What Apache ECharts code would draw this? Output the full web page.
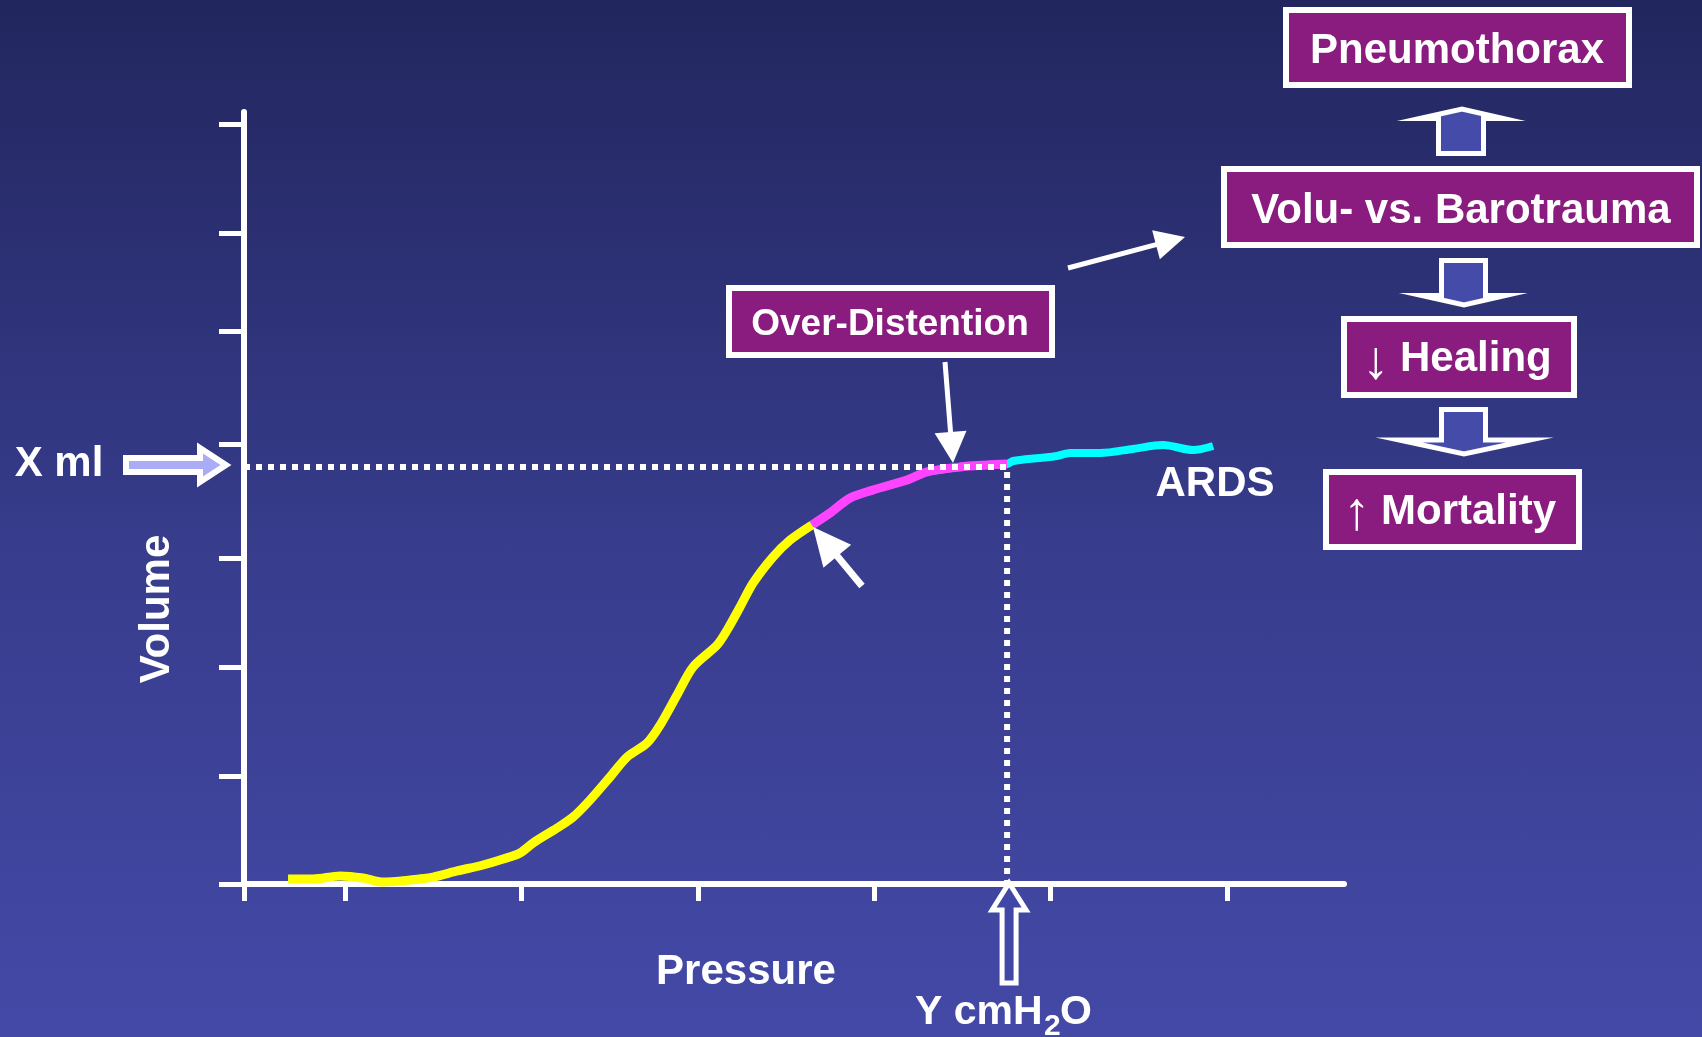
<!DOCTYPE html>
<html>
<head>
<meta charset="utf-8">
<title>Pressure–Volume curve in ARDS</title>
<script src="https://cdn.jsdelivr.net/npm/echarts@6/dist/echarts.min.js"></script>
<style>
  html, body { margin: 0; padding: 0; }
  #chart {
    width: 1702px; height: 1037px;
    background: linear-gradient(to bottom, #22265e 0%, #383d8e 55%, #4449a7 100%);
  }
</style>
</head>
<body>
<div id="chart"></div>
<script>
// Static pressure–volume trace of an ARDS lung (pressure in arbitrary cmH2O units, volume in ml)
const pressure = [6.77, 8.19, 9.72, 11.02, 12.15, 13.68, 14.99, 16.35, 17.82, 18.96, 19.92, 20.66,
  22.02, 22.93, 23.89, 25.02, 25.99, 27.12, 27.86, 28.82, 29.73, 31.09, 31.66, 32.39, 33.13, 34.26,
  35.23, 36.47, 37.49, 38.63, 39.93, 41.86, 42.99, 44.86, 46.39, 47.53, 47.87, 49.40, 50.36, 51.10,
  52.80, 54.67, 56.37, 58.07, 59.21];
const volume = [4.6, 4.6, 7.4, 5.5, 1.8, 3.7, 6.4, 12.0, 17.5, 23.0, 28.6, 37.8,
  51.6, 61.7, 77.4, 98.6, 117.0, 129.9, 146.4, 174.1, 199.9, 220.1, 233.9, 255.1, 277.2, 301.2,
  316.8, 330.7, 341.7, 355.5, 362.9, 372.1, 379.5, 384.1, 385.9, 386.8, 389.6, 392.4, 394.2, 397.0,
  397.0, 400.7, 404.3, 399.7, 403.4];

// Upper inflection point (start of over-distention) and the chosen limit
const inflectionPressure = 36.47;
const limitPressure = 47.53;   // "Y cmH2O"
const limitVolume = 384;       // "X ml"

// Axis extents and tick positions
const pressureRange = [4.27, 66.63];
const volumeRange = [0, 711];
const pressureTicks = [4.27, 10, 20, 30, 40, 50, 60];
const volumeTicks = [0, 99.5, 199.9, 300.3, 405.3, 509.3, 599.6, 700];

// Flow of consequences on the right
const consequences = ['Pneumothorax', 'Volu- vs. Barotrauma', 'Healing', 'Mortality'];

const W = '#ffffff';
const PURPLE = '#891c7e';
const ARROW_FILL = '#454ba9';
const FONT = '"Liberation Sans", Arial, Helvetica, sans-serif';

const points = pressure.map((p, i) => [p, volume[i]]);
const recruitPart = points.filter(d => d[0] <= inflectionPressure);
const overPart = points.filter(d => d[0] >= inflectionPressure && d[0] <= limitPressure);

const chart = echarts.init(document.getElementById('chart'), null, { renderer: 'canvas' });

chart.setOption({
  animation: false,
  backgroundColor: 'transparent',
  grid: { left: 244, right: 358, top: 112, bottom: 153 },
  xAxis: {
    type: 'value',
    min: pressureRange[0], max: pressureRange[1],
    axisLine: { show: true, onZero: false, lineStyle: { color: W, width: 6 } },
    axisTick: { show: true, customValues: pressureTicks, length: 17, lineStyle: { color: W, width: 5 } },
    axisLabel: { show: false },
    splitLine: { show: false }
  },
  yAxis: {
    type: 'value',
    min: volumeRange[0], max: volumeRange[1],
    axisLine: { show: true, onZero: false, lineStyle: { color: W, width: 6 } },
    axisTick: { show: true, customValues: volumeTicks, length: 25, lineStyle: { color: W, width: 5 } },
    axisLabel: { show: false },
    splitLine: { show: false }
  },
  series: [
    {
      name: 'ARDS', type: 'line', data: points, symbol: 'none', smooth: 0.3, z: 2,
      lineStyle: { color: '#00ffff', width: 8 }
    },
    {
      name: 'Recruitment', type: 'line', data: recruitPart, symbol: 'none', smooth: 0.3, z: 3,
      lineStyle: { color: '#ffff00', width: 9 }
    },
    {
      name: 'Over-distention', type: 'line', data: overPart, symbol: 'none', smooth: 0.3, z: 3,
      lineStyle: { color: '#ff44ff', width: 9 }
    },
    {
      name: 'Limit', type: 'line', symbol: 'none', z: 4,
      data: [[pressureRange[0], limitVolume], [limitPressure, limitVolume], [limitPressure, 0]],
      lineStyle: { color: W, width: 6, type: [6, 6] }
    }
  ]
});

// ---- annotations ----
// Text centres are given at the middle of the capital letters.
function text(str, x, y, size, opts) {
  opts = opts || {};
  const align = opts.align || 'center';
  const rot = opts.rotation || 0;
  return {
    type: 'text', x: rot ? x : x, y: rot ? y : y + 3, z: 60, rotation: rot,
    style: {
      text: str, fill: W,
      font: (opts.weight || 'bold') + ' ' + size + 'px ' + FONT,
      textAlign: align, align: align,
      textVerticalAlign: 'middle', verticalAlign: 'middle'
    }
  };
}
function box(x1, y1, x2, y2) {
  return {
    type: 'rect', z: 50,
    shape: { x: x1 + 3, y: y1 + 3, width: x2 - x1 - 6, height: y2 - y1 - 6 },
    style: { fill: PURPLE, stroke: W, lineWidth: 6 }
  };
}
function arrow(tail, tip, shaftW, headLen, headHalf) {
  const dx = tip[0] - tail[0], dy = tip[1] - tail[1];
  const len = Math.sqrt(dx * dx + dy * dy);
  const ux = dx / len, uy = dy / len;
  const bx = tip[0] - ux * headLen, by = tip[1] - uy * headLen;
  const px = -uy, py = ux;
  return [
    { type: 'line', z: 55, shape: { x1: tail[0], y1: tail[1], x2: bx + ux * 2, y2: by + uy * 2 },
      style: { stroke: W, lineWidth: shaftW } },
    { type: 'polygon', z: 55,
      shape: { points: [[bx + px * headHalf, by + py * headHalf], tip, [bx - px * headHalf, by - py * headHalf]] },
      style: { fill: W } }
  ];
}
function blockArrow(pts) {
  return { type: 'polygon', z: 50, shape: { points: pts },
    style: { fill: ARROW_FILL, stroke: W, lineWidth: 5, lineJoin: 'miter' } };
}

const limitPx = chart.convertToPixel({ gridIndex: 0 }, [limitPressure, limitVolume]);
const inflPx = chart.convertToPixel({ gridIndex: 0 }, [inflectionPressure, volume[pressure.indexOf(inflectionPressure)]]);
const originY = chart.convertToPixel({ gridIndex: 0 }, [pressureRange[0], 0])[1];

const g = [];

// axis titles
g.push(text('Pressure', 746, 969, 42));
g.push(text('Volume', 157, 609, 42, { rotation: Math.PI / 2 }));
g.push(text('ARDS', 1215, 481, 42));

// X ml marker arrow pointing at the volume axis
g.push(text('X ml', 59, 461, 42));
(function () {
  const tx = 226, ty = limitPx[1] - 2;
  g.push({
    type: 'polygon', z: 50,
    shape: { points: [[tx - 100, ty - 7], [tx - 26, ty - 7], [tx - 26, ty - 17], [tx, ty],
      [tx - 26, ty + 17], [tx - 26, ty + 7], [tx - 100, ty + 7]] },
    style: { fill: '#aaacf6', stroke: W, lineWidth: 6, lineJoin: 'miter' }
  });
})();

// Y cmH2O marker arrow pointing at the pressure axis
(function () {
  const tx = limitPx[0] + 2, ty = originY - 1;
  g.push({
    type: 'polygon', z: 50,
    shape: { points: [[tx, ty], [tx + 17, ty + 27], [tx + 7, ty + 27], [tx + 7, ty + 100],
      [tx - 7, ty + 100], [tx - 7, ty + 27], [tx - 17, ty + 27]] },
    style: { fill: '#4147a4', stroke: W, lineWidth: 5, lineJoin: 'miter' }
  });
})();
g.push(text('Y cmH', 915, 1010, 41, { align: 'left' }));
g.push(text('2', 1044, 1024, 30, { align: 'left' }));
g.push(text('O', 1060, 1010, 41, { align: 'left' }));

// Over-distention label and pointers
g.push(box(726, 285, 1055, 358));
g.push(text('Over-Distention', 890, 322, 37));
arrow([945, 362], [953, 463], 5, 31, 16).forEach(e => g.push(e));
arrow([inflPx[0] + 50, inflPx[1] + 61], [inflPx[0] + 1, inflPx[1] + 2], 7, 38, 18).forEach(e => g.push(e));
arrow([1068, 268], [1185, 237], 5, 30, 15).forEach(e => g.push(e));

// Consequence chain
g.push(box(1283, 7, 1632, 88));
g.push(text(consequences[0], 1457, 48, 42));
g.push(blockArrow([[1438.5, 153.5], [1483.5, 153.5], [1483.5, 118.5], [1503.5, 118.5], [1462, 109],
  [1419.5, 118.5], [1438.5, 118.5]]));
g.push(box(1221, 166, 1700, 248));
g.push(text(consequences[1], 1461, 208, 42));
g.push(blockArrow([[1441.5, 260.5], [1485.5, 260.5], [1485.5, 295.5], [1505.5, 295.5], [1464, 305],
  [1421.5, 295.5], [1441.5, 295.5]]));
g.push(box(1341, 316, 1577, 398));
g.push(text('\u2193', 1376, 360, 54, { weight: 'normal' }));
g.push(text(consequences[2], 1400, 356, 42, { align: 'left' }));
g.push(blockArrow([[1441.5, 409.5], [1485.5, 409.5], [1485.5, 440], [1530, 440], [1464, 454],
  [1399, 440], [1441.5, 440]]));
g.push(box(1323, 469, 1582, 550));
g.push(text('\u2191', 1357, 511, 54, { weight: 'normal' }));
g.push(text(consequences[3], 1381, 509, 42, { align: 'left' }));

chart.setOption({ graphic: g });
</script>
</body>
</html>
